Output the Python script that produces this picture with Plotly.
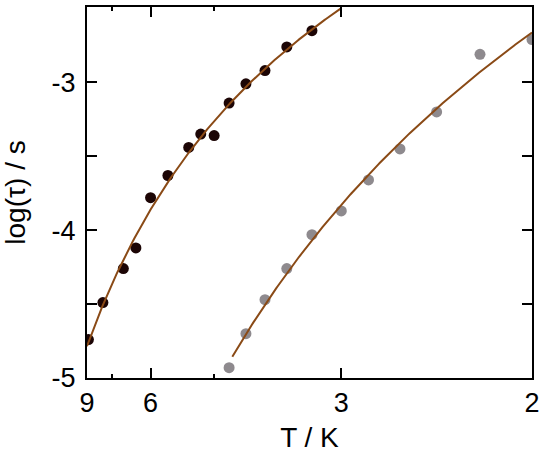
import numpy as np
import plotly.graph_objects as go

# Temperatures (K) and log(tau / s) for the two data sets
T_black = [8.9, 8.0, 7.0, 6.5, 6.0, 5.5, 5.0, 4.75, 4.5, 4.25, 4.0, 3.75, 3.5, 3.25]
logtau_black = [-4.74, -4.49, -4.26, -4.12, -3.78, -3.63, -3.44, -3.35, -3.36,
                -3.14, -3.01, -2.92, -2.76, -2.65]

T_gray = [4.25, 4.0, 3.75, 3.5, 3.25, 3.0, 2.8, 2.6, 2.4, 2.2, 2.0]
logtau_gray = [-4.93, -4.70, -4.47, -4.26, -4.03, -3.87, -3.66, -3.45, -3.20,
               -2.81, -2.71]

# Fit-curve temperature ranges
fit_black_T = [9.0, 3.0]
fit_gray_T = [4.2, 2.0]

x_tick_T = [9, 6, 3, 2]
x_minor_T = [7.5, 4.5]
y_ticks = [-5, -4.5, -4, -3.5, -3]
y_labels = ["-5", "", "-4", "", "-3"]

def inv(t):
    return 1.0 / np.asarray(t, dtype=float)

def fit_curve(T, y, Trange, deg=2):
    u = np.log10(inv(T))
    c = np.polyfit(u, y, deg)
    xs = np.linspace(1.0 / Trange[0], 1.0 / Trange[1], 200)
    return xs, np.polyval(c, np.log10(xs))

line_color = "#8a4a16"
fig = go.Figure()

xb, yb = fit_curve(T_black, logtau_black, fit_black_T)
xg, yg = fit_curve(T_gray, logtau_gray, fit_gray_T)

fig.add_trace(go.Scatter(x=inv(T_black), y=logtau_black, mode="markers",
                         marker=dict(size=11, color="#1c0505"), cliponaxis=True))
fig.add_trace(go.Scatter(x=inv(T_gray), y=logtau_gray, mode="markers",
                         marker=dict(size=11, color="#8e8a8e"), cliponaxis=True))
fig.add_trace(go.Scatter(x=xb, y=yb, mode="lines",
                         line=dict(color=line_color, width=2)))
fig.add_trace(go.Scatter(x=xg, y=yg, mode="lines",
                         line=dict(color=line_color, width=2)))

family = "Liberation Sans, Arial, sans-serif"
tickfont = dict(family=family, size=27, color="black")
titlefont = dict(family=family, size=28, color="black")

fig.update_layout(
    width=550, height=462,
    margin=dict(l=87, r=18, t=7, b=84),
    paper_bgcolor="white", plot_bgcolor="white",
    showlegend=False,
    font=tickfont,
    xaxis=dict(
        range=[1 / 9, 1 / 2], automargin=False,
        tickvals=list(inv(x_tick_T)), ticktext=[str(t) for t in x_tick_T],
        tickfont=tickfont,
        ticks="inside", ticklen=10, tickwidth=1.5, tickcolor="black",
        minor=dict(tickvals=list(inv(x_minor_T)), ticks="inside", ticklen=4,
                   tickwidth=1.5, tickcolor="black", showgrid=False),
        showline=True, linecolor="black", linewidth=2, mirror="ticks",
        showgrid=False, zeroline=False,
        title=dict(text="T / K", font=titlefont, standoff=10),
    ),
    yaxis=dict(
        range=[-5, -2.49], automargin=False,
        tickvals=y_ticks, ticktext=y_labels, tickfont=tickfont,
        ticklabelstandoff=4,
        ticks="inside", ticklen=10, tickwidth=1.5, tickcolor="black",
        showline=True, linecolor="black", linewidth=2, mirror="ticks",
        showgrid=False, zeroline=False,
        title=dict(text="log(τ) / s", font=titlefont, standoff=18),
    ),
)

fig.write_html("out.html", config={"displayModeBar": False},
               post_script="document.body.style.margin='0px';")
